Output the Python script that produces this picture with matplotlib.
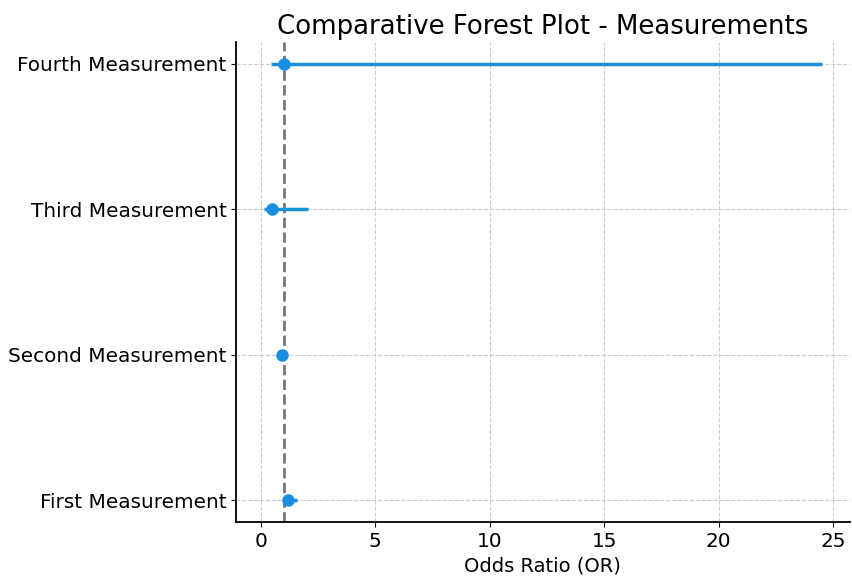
import matplotlib.pyplot as plt
import numpy as np

labels = ['First Measurement', 'Second Measurement', 'Third Measurement', 'Fourth Measurement']
odds_ratio = [1.2, 0.95, 0.5, 1.0]
ci_lower = [1.0, 0.9, 0.15, 0.45]
ci_upper = [1.6, 1.0, 2.05, 24.5]

fig = plt.figure(figsize=(8.53, 5.77), dpi=100)
ax = fig.add_axes([0.277, 0.095, 0.719, 0.832])

y = np.arange(len(labels))
or_arr = np.array(odds_ratio)
err = [or_arr - np.array(ci_lower), np.array(ci_upper) - or_arr]

ax.errorbar(odds_ratio, y, xerr=err, fmt='o', color='#1a8fe0', ecolor='#1a8fdc',
            elinewidth=2.5, markersize=8, capsize=0, zorder=3)
ax.axvline(1, color='#777777', linestyle='--', linewidth=2, zorder=2)

ax.set_yticks(y)
ax.set_yticklabels(labels, fontsize=14.4)
ax.tick_params(axis='x', labelsize=14.4)
ax.set_xticks([0, 5, 10, 15, 20, 25])
ax.set_xlabel('Odds Ratio (OR)', fontsize=14)
ax.set_title('Comparative Forest Plot - Measurements', fontsize=18.7)
ax.grid(True, linestyle='--', color='#cccccc', linewidth=0.8)
ax.set_axisbelow(True)
ax.spines['top'].set_visible(False)
ax.spines['right'].set_visible(False)
ax.spines['left'].set_linewidth(1.3)
ax.spines['bottom'].set_linewidth(1.3)

fig.savefig('out.png', dpi=100)
